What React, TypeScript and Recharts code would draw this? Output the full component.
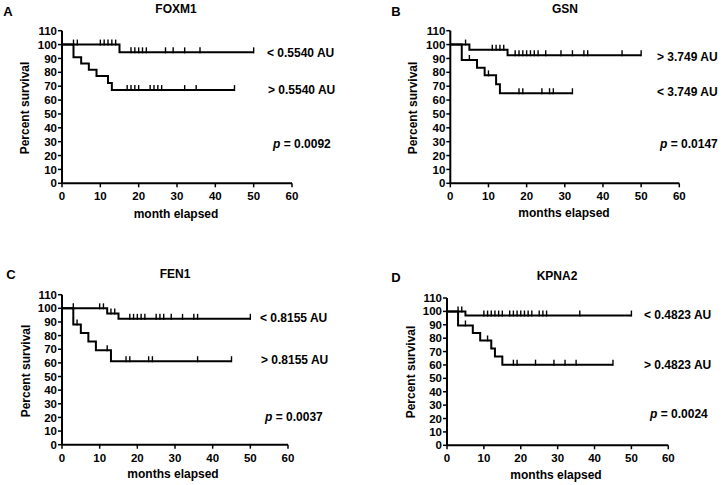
import React from "react";
import { ComposedChart, Line, Scatter, XAxis, YAxis } from "recharts";

const monthTicks = [0, 10, 20, 30, 40, 50, 60];
const survivalTicks = [0, 10, 20, 30, 40, 50, 60, 70, 80, 90, 100, 110];

// A - FOXM1
const foxm1LowTimes = [0, 15, 50];
const foxm1LowSurv = [100, 94.4, 94.4];
const foxm1LowCensored = [3, 4, 10, 11, 12, 13, 14, 18, 19, 20, 21, 22, 27, 29, 32, 36, 50];
const foxm1HighTimes = [0, 3, 5, 7, 9, 12, 13, 45];
const foxm1HighSurv = [100, 90.9, 86.4, 81.8, 77.3, 72.3, 67.2, 67.2];
const foxm1HighCensored = [17, 18, 19, 20, 23, 24, 25, 26, 32, 35, 45];

// B - GSN
const gsnHighTimes = [0, 5, 15, 50];
const gsnHighSurv = [100, 96.2, 92.3, 92.3];
const gsnHighCensored = [4, 11, 12, 13, 14, 17, 18, 19, 20, 21, 22, 23, 25, 29, 32, 35, 36, 45, 50];
const gsnLowTimes = [0, 3, 7, 9, 12, 13, 32];
const gsnLowSurv = [100, 88.9, 83.3, 77.8, 71.4, 64.9, 64.9];
const gsnLowCensored = [5, 10, 18, 19, 24, 26, 27, 32];

// C - FEN1
const fen1LowTimes = [0, 12, 15, 50];
const fen1LowSurv = [100, 96.2, 92.3, 92.3];
const fen1LowCensored = [3, 10, 11, 13, 14, 18, 19, 20, 21, 22, 25, 26, 27, 29, 32, 35, 36, 50];
const fen1HighTimes = [0, 3, 5, 7, 9, 13, 45];
const fen1HighSurv = [100, 88.2, 81.9, 75.6, 69.3, 61.2, 61.2];
const fen1HighCensored = [4, 12, 17, 18, 23, 24, 36, 45];

// D - KPNA2
const kpnaLowTimes = [0, 5, 50];
const kpnaLowSurv = [100, 96.9, 96.9];
const kpnaLowCensored = [3, 4, 10, 11, 12, 13, 14, 15, 17, 18, 19, 20, 21, 22, 23, 25, 26, 27, 36, 50];
const kpnaHighTimes = [0, 3, 7, 9, 12, 13, 15, 45];
const kpnaHighSurv = [100, 89.5, 83.9, 78.3, 72.3, 66.3, 60.2, 60.2];
const kpnaHighCensored = [5, 11, 18, 19, 24, 29, 32, 35, 45];

const FONT = "'Liberation Sans', Arial, sans-serif";
const Y_AXIS_W = 40;
const X_AXIS_H = 28;

type Curve = { times: number[]; surv: number[]; censored: number[] };

const steps = (c: Curve) => c.times.map((t, i) => ({ x: t, y: c.surv[i] }));

// survival level at a censor time = last step at or before it
const marks = (c: Curve) =>
  c.censored.map((m) => {
    let y = c.surv[0];
    c.times.forEach((t, i) => {
      if (t <= m) y = c.surv[i];
    });
    return { x: m, y };
  });

const CensorTick = (props: any) => {
  const { cx, cy } = props;
  return <line x1={cx} x2={cx} y1={cy - 5} y2={cy + 1} stroke="#000" strokeWidth={1.4} />;
};

interface Txt {
  text: React.ReactNode;
  x: number;
  y: number;
  anchor?: "start" | "middle";
  size?: number;
  rotate?: boolean;
}

interface Panel {
  left: number;
  top: number;
  width: number;
  height: number;
  // plot area edges, relative to the panel box
  plot: { top: number; right: number; bottom: number; left: number };
  curves: Curve[];
  texts: Txt[];
}

const pText = (v: string) => (
  <span>
    <i>p</i> = {v}
  </span>
);

const panels: Panel[] = [
  {
    left: 0,
    top: 0,
    width: 361,
    height: 242,
    plot: { top: 30.7, right: 69, bottom: 58.7, left: 62 },
    curves: [
      { times: foxm1LowTimes, surv: foxm1LowSurv, censored: foxm1LowCensored },
      { times: foxm1HighTimes, surv: foxm1HighSurv, censored: foxm1HighCensored },
    ],
    texts: [
      { text: "A", x: 8, y: 10.5, anchor: "middle", size: 13 },
      { text: "FOXM1", x: 176, y: 9, anchor: "middle" },
      { text: "< 0.5540 AU", x: 267, y: 53 },
      { text: "> 0.5540 AU", x: 268, y: 90 },
      { text: pText("0.0092"), x: 273, y: 144 },
      { text: "Percent survival", x: 25, y: 108, anchor: "middle", rotate: true },
      { text: "month elapsed", x: 176, y: 214, anchor: "middle" },
    ],
  },
  {
    left: 361,
    top: 0,
    width: 361,
    height: 242,
    plot: { top: 30.7, right: 42.7, bottom: 58.7, left: 89.3 },
    curves: [
      { times: gsnHighTimes, surv: gsnHighSurv, censored: gsnHighCensored },
      { times: gsnLowTimes, surv: gsnLowSurv, censored: gsnLowCensored },
    ],
    texts: [
      { text: "B", x: 396, y: 10.5, anchor: "middle", size: 13 },
      { text: "GSN", x: 565, y: 9, anchor: "middle" },
      { text: "> 3.749 AU", x: 657, y: 56.5 },
      { text: "< 3.749 AU", x: 657, y: 92 },
      { text: pText("0.0147"), x: 660, y: 144 },
      { text: "Percent survival", x: 412.5, y: 108, anchor: "middle", rotate: true },
      { text: "months elapsed", x: 564, y: 213, anchor: "middle" },
    ],
  },
  {
    left: 0,
    top: 242,
    width: 361,
    height: 243,
    plot: { top: 52.7, right: 73, bottom: 40.3, left: 62 },
    curves: [
      { times: fen1LowTimes, surv: fen1LowSurv, censored: fen1LowCensored },
      { times: fen1HighTimes, surv: fen1HighSurv, censored: fen1HighCensored },
    ],
    texts: [
      { text: "C", x: 11, y: 273.5, anchor: "middle", size: 13 },
      { text: "FEN1", x: 175, y: 273.7, anchor: "middle" },
      { text: "< 0.8155 AU", x: 260, y: 317.5 },
      { text: "> 0.8155 AU", x: 261, y: 360 },
      { text: pText("0.0037"), x: 265, y: 417 },
      { text: "Percent survival", x: 26, y: 371, anchor: "middle", rotate: true },
      { text: "months elapsed", x: 173, y: 474, anchor: "middle" },
    ],
  },
  {
    left: 361,
    top: 242,
    width: 361,
    height: 243,
    plot: { top: 56, right: 53.7, bottom: 39.7, left: 86 },
    curves: [
      { times: kpnaLowTimes, surv: kpnaLowSurv, censored: kpnaLowCensored },
      { times: kpnaHighTimes, surv: kpnaHighSurv, censored: kpnaHighCensored },
    ],
    texts: [
      { text: "D", x: 396, y: 277, anchor: "middle", size: 13 },
      { text: "KPNA2", x: 557, y: 276, anchor: "middle" },
      { text: "< 0.4823 AU", x: 644, y: 315 },
      { text: "> 0.4823 AU", x: 644, y: 365 },
      { text: pText("0.0024"), x: 650, y: 413.5 },
      { text: "Percent survival", x: 411, y: 372, anchor: "middle", rotate: true },
      { text: "months elapsed", x: 556, y: 475, anchor: "middle" },
    ],
  },
];

const axisFont = { fill: "#000", fontSize: 11.5, fontWeight: "bold", fontFamily: FONT };

const SurvivalPanel = ({ p }: { p: Panel }) => (
  <div style={{ position: "absolute", left: p.left, top: p.top }}>
    <ComposedChart
      width={p.width}
      height={p.height}
      margin={{
        top: p.plot.top,
        right: p.plot.right,
        bottom: p.plot.bottom - X_AXIS_H,
        left: p.plot.left - Y_AXIS_W,
      }}
    >
      <XAxis
        type="number"
        dataKey="x"
        domain={[0, 60]}
        ticks={monthTicks}
        interval={0}
        height={X_AXIS_H}
        tickSize={4}
        tickMargin={5}
        axisLine={{ stroke: "#000", strokeWidth: 2 }}
        tickLine={{ stroke: "#000", strokeWidth: 1.5 }}
        tick={axisFont}
      />
      <YAxis
        type="number"
        domain={[0, 110]}
        ticks={survivalTicks}
        interval={0}
        width={Y_AXIS_W}
        tickSize={4}
        tickMargin={1}
        axisLine={{ stroke: "#000", strokeWidth: 2 }}
        tickLine={{ stroke: "#000", strokeWidth: 1.5 }}
        tick={axisFont}
      />
      {p.curves.map((c, i) => (
        <Line
          key={"l" + i}
          data={steps(c)}
          dataKey="y"
          type="stepAfter"
          stroke="#000"
          strokeWidth={2}
          dot={false}
          activeDot={false}
          isAnimationActive={false}
        />
      ))}
      {p.curves.map((c, i) => (
        <Scatter
          key={"s" + i}
          data={marks(c)}
          dataKey="y"
          shape={CensorTick}
          isAnimationActive={false}
        />
      ))}
    </ComposedChart>
  </div>
);

const Label = ({ t }: { t: Txt }) => (
  <div
    style={{
      position: "absolute",
      left: t.x,
      top: t.y,
      whiteSpace: "nowrap",
      fontFamily: FONT,
      fontWeight: "bold",
      fontSize: t.size ?? 12,
      lineHeight: 1,
      color: "#000",
      transform:
        (t.anchor === "middle" ? "translate(-50%, -50%)" : "translate(0, -50%)") +
        (t.rotate ? " rotate(-90deg)" : ""),
    }}
  >
    {t.text}
  </div>
);

export default function App() {
  return (
    <div
      style={{
        position: "absolute",
        left: 0,
        top: 0,
        width: 722,
        height: 485,
        background: "#fff",
        overflow: "hidden",
      }}
    >
      {panels.map((p, i) => (
        <SurvivalPanel key={i} p={p} />
      ))}
      {panels.map((p, i) => p.texts.map((t, j) => <Label key={i + "-" + j} t={t} />))}
    </div>
  );
}
